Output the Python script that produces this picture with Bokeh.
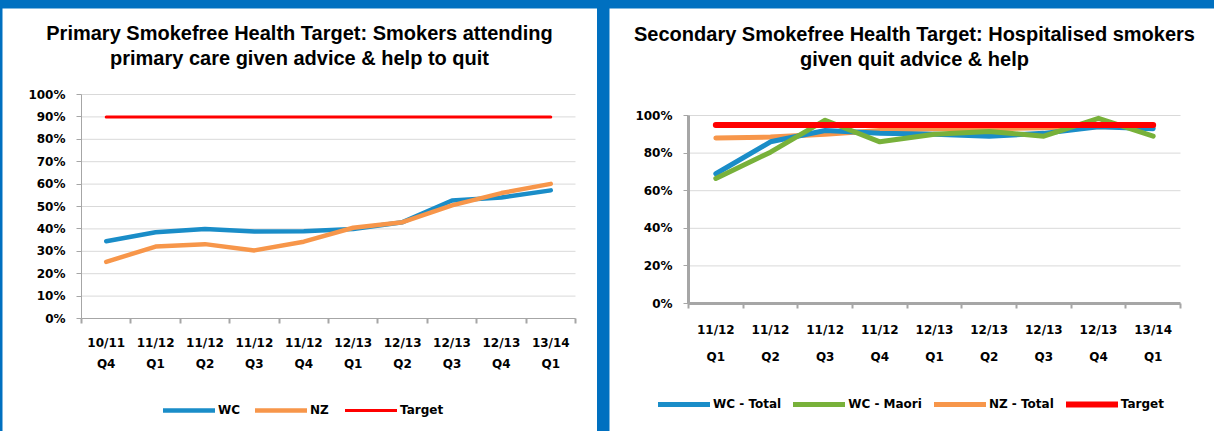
from bokeh.plotting import figure
from bokeh.models import (Range1d, FixedTicker, LinearAxis, NumeralTickFormatter,
                          Label, Legend, LegendItem)
from bokeh.layouts import row
from bokeh.embed import file_html
from bokeh.resources import INLINE

# ---------------- data ----------------
# Primary chart
p_title = ["Primary Smokefree Health Target: Smokers attending",
           "primary care given advice & help to quit"]
p_years = ["10/11", "11/12", "11/12", "11/12", "11/12", "12/13", "12/13", "12/13", "12/13", "13/14"]
p_quarters = ["Q4", "Q1", "Q2", "Q3", "Q4", "Q1", "Q2", "Q3", "Q4", "Q1"]
p_wc = [0.345, 0.385, 0.400, 0.388, 0.390, 0.400, 0.430, 0.527, 0.540, 0.572]
p_nz = [0.253, 0.321, 0.332, 0.304, 0.343, 0.405, 0.430, 0.505, 0.560, 0.601]
p_target = [0.90] * 10

# Secondary chart
s_title = ["Secondary Smokefree Health Target: Hospitalised smokers",
           "given quit advice & help"]
s_years = ["11/12", "11/12", "11/12", "11/12", "12/13", "12/13", "12/13", "12/13", "13/14"]
s_quarters = ["Q1", "Q2", "Q3", "Q4", "Q1", "Q2", "Q3", "Q4", "Q1"]
s_wc_total = [0.690, 0.860, 0.920, 0.905, 0.900, 0.890, 0.905, 0.940, 0.930]
s_wc_maori = [0.665, 0.805, 0.975, 0.860, 0.900, 0.915, 0.890, 0.985, 0.890]
s_nz_total = [0.880, 0.885, 0.900, 0.920, 0.930, 0.930, 0.935, 0.940, 0.940]
s_target = [0.95] * 9

BLUE = "#1A8DC8"
ORANGE = "#F7964A"
GREEN = "#78B13A"
RED = "#FF0000"
BORDER = "#0070C0"
GRID = "#D9D9D9"
AXIS = "#A6A6A6"
TICK_FONT = "DejaVu Sans"
TITLE_FONT = "Liberation Sans"


def base_fig(width, height, n, yticks, plot_px, years, quarters, std1, std2, axis_w):
    """The frame fills the whole figure; axes sit at fixed locations inside it.
    plot_px = (left, right, top(100%), bottom(0%)) of the plot area in figure pixels."""
    left, right, top, bottom = plot_px
    ux = (right - left) / n              # pixels per category
    uy = (bottom - top)                  # pixels per 100 %
    x0 = -0.5 - left / ux
    x1 = n - 0.5 + (width - right) / ux
    y1 = 1 + top / uy
    y0 = -(height - bottom) / uy
    p = figure(width=width, height=height, output_backend="svg", toolbar_location=None,
               x_range=Range1d(x0, x1), y_range=Range1d(y0, y1), title=None, min_border=0,
               min_border_left=0, min_border_right=0, min_border_top=0, min_border_bottom=0)
    p.outline_line_color = None
    p.background_fill_color = "white"
    p.border_fill_color = "white"
    p.xgrid.visible = False
    p.ygrid.visible = False

    # horizontal gridlines across the plot area only
    p.segment(x0=[-0.5] * len(yticks), x1=[n - 0.5] * len(yticks), y0=yticks, y1=yticks,
              line_color=GRID, line_width=1)

    idx = list(range(n))
    ax = p.xaxis[0]
    ax.fixed_location = 0
    ax.bounds = (-0.5, n - 0.5)
    ax.ticker = FixedTicker(ticks=idx, minor_ticks=[i - 0.5 for i in range(n + 1)])
    ax.major_label_overrides = {i: years[i] for i in idx}
    ax.major_tick_in = 0
    ax.major_tick_out = 0
    ax.minor_tick_in = 0
    ax.minor_tick_out = 5
    ax.minor_tick_line_color = AXIS
    ax.minor_tick_line_width = 2
    ax.axis_line_color = AXIS
    ax.axis_line_width = axis_w
    ax.major_label_standoff = std1
    ax.major_label_text_font = TICK_FONT
    ax.major_label_text_font_style = "bold"
    ax.major_label_text_font_size = "12px"
    ax.major_label_text_color = "black"

    ax2 = LinearAxis(ticker=FixedTicker(ticks=idx), fixed_location=0, bounds=(-0.5, n - 0.5),
                     major_label_overrides={i: quarters[i] for i in idx})
    ax2.axis_line_color = None
    ax2.major_tick_line_color = None
    ax2.minor_tick_line_color = None
    ax2.major_tick_in = 0
    ax2.major_tick_out = 0
    ax2.minor_tick_in = 0
    ax2.minor_tick_out = 0
    ax2.major_label_standoff = std2
    ax2.major_label_text_font = TICK_FONT
    ax2.major_label_text_font_style = "bold"
    ax2.major_label_text_font_size = "12px"
    ax2.major_label_text_color = "black"
    p.add_layout(ax2, "below")

    ay = p.yaxis[0]
    ay.fixed_location = -0.5
    ay.ticker = FixedTicker(ticks=yticks)
    ay.bounds = (0, 1)
    ay.formatter = NumeralTickFormatter(format="0%")
    ay.axis_line_color = AXIS
    ay.axis_line_width = axis_w
    ay.major_tick_line_color = AXIS
    ay.major_tick_in = 0
    ay.major_tick_out = 5
    ay.minor_tick_line_color = None
    ay.major_label_standoff = 11
    ay.major_label_text_font = TICK_FONT
    ay.major_label_text_font_style = "bold"
    ay.major_label_text_font_size = "12px"
    ay.major_label_text_color = "black"
    return p


def add_titles(p, lines, x, ys):
    for t, y in zip(lines, ys):
        p.add_layout(Label(x=x, y=y, text=t, text_align="center", text_baseline="alphabetic",
                           text_font=TITLE_FONT, text_font_style="bold",
                           text_font_size="20px", text_color="black"))


def add_legend(p, items, loc, spacing):
    leg = Legend(items=[LegendItem(label=l, renderers=[r]) for l, r in items],
                 orientation="horizontal", location=loc,
                 glyph_width=52, glyph_height=14, label_height=14,
                 label_standoff=3, spacing=spacing, padding=0, margin=0,
                 border_line_color=None, background_fill_alpha=0,
                 label_text_font=TICK_FONT, label_text_font_style="bold",
                 label_text_font_size="12px", label_text_color="black")
    p.add_layout(leg)


# ---------------- left chart ----------------
# figure at page (2, 8); plot area page x 81..575, 100% at y=94, 0% at y=318
n1 = len(p_years)
x1 = list(range(n1))
p1 = base_fig(595, 423, n1, [i / 10 for i in range(11)], (79, 573, 86, 310),
              p_years, p_quarters, 12, 38, 1)
r_wc = p1.line(x1, p_wc, line_color=BLUE, line_width=4.5, line_cap="round", line_join="round")
r_nz = p1.line(x1, p_nz, line_color=ORANGE, line_width=4.5, line_cap="round", line_join="round")
r_t = p1.line(x1, p_target, line_color=RED, line_width=3, line_cap="round")
add_titles(p1, p_title, -0.5 + 218 / 49.4, [1 + 62 / 224, 1 + 37 / 224])
add_legend(p1, [("WC", r_wc), ("NZ", r_nz), ("Target", r_t)], (161, 14), 15)

# ---------------- right chart ----------------
# figure at page (609, 8); plot area page x 688..1180, 100% at y=115, 0% at y=303
n2 = len(s_years)
x2 = list(range(n2))
p2 = base_fig(605, 423, n2, [i / 5 for i in range(6)], (79, 571, 107, 295),
              s_years, s_quarters, 14, 46, 3)
r_nzt = p2.line(x2, s_nz_total, line_color=ORANGE, line_width=5, line_cap="round", line_join="round")
r_wct = p2.line(x2, s_wc_total, line_color=BLUE, line_width=5, line_cap="round", line_join="round")
r_wcm = p2.line(x2, s_wc_maori, line_color=GREEN, line_width=5, line_cap="round", line_join="round")
r_t2 = p2.line(x2, s_target, line_color=RED, line_width=6, line_cap="round")
add_titles(p2, s_title, -0.5 + 226 / 54.67, [1 + 82 / 188, 1 + 57 / 188])
add_legend(p2, [("WC - Total", r_wct), ("WC - Maori", r_wcm), ("NZ - Total", r_nzt),
                ("Target", r_t2)], (49, 20), 12)

p1.margin = (8, 0, 0, 2)
p2.margin = (8, 0, 0, 0)
layout = row(p1, p2, spacing=12, styles={"background-color": BORDER})

open("out.html", "w").write(file_html(layout, INLINE))
